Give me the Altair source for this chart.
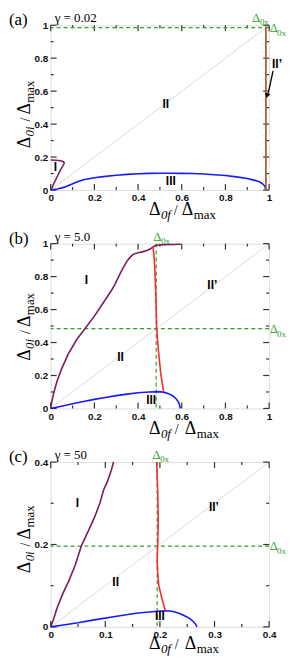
import altair as alt
import pandas as pd

# ---------------- data ----------------
# panel (a)  gamma = 0.02
a_I_x = [0.0, 0.005, 0.015, 0.03, 0.045, 0.055, 0.06, 0.062, 0.058, 0.045, 0.025, 0.0]
a_I_y = [0.0, 0.012, 0.042, 0.082, 0.122, 0.145, 0.158, 0.165, 0.172, 0.178, 0.181, 0.182]
a_III_x = [0.0, 0.03, 0.06, 0.09, 0.12, 0.15, 0.2, 0.25, 0.3, 0.35, 0.4, 0.45, 0.5, 0.55,
           0.6, 0.65, 0.7, 0.75, 0.8, 0.85, 0.9, 0.93, 0.955, 0.97, 0.98, 0.985]
a_III_y = [0.0, 0.006, 0.016, 0.032, 0.048, 0.062, 0.074, 0.083, 0.09, 0.095, 0.099, 0.101, 0.102, 0.102,
           0.101, 0.1, 0.097, 0.093, 0.088, 0.08, 0.07, 0.06, 0.05, 0.038, 0.024, 0.0]
a_red_x = [0.985, 0.985]
a_red_y = [0.0, 0.985]
a_d0x = 0.985
a_lab_t = ["I", "II", "III", "II\u2019"]
a_lab_x = [0.022, 0.527, 0.55, 1.036]
a_lab_y = [0.14, 0.52, 0.054, 0.765]
a_arrow = [1.018, 0.723, 0.995, 0.584]   # x, y, x2, y2
a_head = [0.991, 0.572]

# panel (b)  gamma = 5.0
b_I_x = [0.0, 0.005, 0.015, 0.03, 0.05, 0.08, 0.12, 0.16, 0.2, 0.23, 0.257, 0.28, 0.294, 0.315,
         0.332, 0.35, 0.362, 0.377, 0.4, 0.42, 0.44, 0.455, 0.468, 0.483, 0.52, 0.56, 0.596]
b_I_y = [0.0, 0.04, 0.1, 0.17, 0.24, 0.33, 0.42, 0.49, 0.56, 0.62, 0.673, 0.72, 0.753, 0.81,
         0.855, 0.895, 0.915, 0.935, 0.945, 0.95, 0.958, 0.967, 0.98, 0.99, 0.994, 0.995, 0.996]
b_red_x = [0.468, 0.472, 0.475, 0.478, 0.481, 0.483, 0.485, 0.49, 0.497, 0.505, 0.517]
b_red_y = [0.985, 0.94, 0.895, 0.8, 0.7, 0.6, 0.5, 0.4, 0.3, 0.2, 0.1]
b_III_x = [0.0, 0.05, 0.1, 0.15, 0.2, 0.25, 0.3, 0.35, 0.4, 0.45, 0.49, 0.517, 0.54, 0.558,
           0.572, 0.582, 0.589, 0.592, 0.593]
b_III_y = [0.0, 0.014, 0.028, 0.042, 0.055, 0.067, 0.078, 0.087, 0.095, 0.1, 0.102, 0.099, 0.09, 0.077,
           0.062, 0.045, 0.025, 0.008, 0.0]
b_d0x = 0.484
b_lab_t = ["I", "II", "II\u2019", "III"]
b_lab_x = [0.163, 0.32, 0.74, 0.46]
b_lab_y = [0.78, 0.31, 0.75, 0.05]

# panel (c)  gamma = 50
c_I_x = [0.0, 0.005, 0.012, 0.022, 0.033, 0.045, 0.056, 0.07, 0.08, 0.09, 0.097, 0.104, 0.109, 0.112, 0.115]
c_I_y = [0.0, 0.018, 0.047, 0.08, 0.111, 0.15, 0.196, 0.236, 0.265, 0.3, 0.333, 0.353, 0.372, 0.385, 0.4]
c_red_x = [0.194, 0.196, 0.197, 0.196, 0.195, 0.196, 0.198, 0.204, 0.21]
c_red_y = [0.4, 0.33, 0.26, 0.2, 0.164, 0.13, 0.1, 0.067, 0.039]
c_III_x = [0.0, 0.02, 0.05, 0.08, 0.121, 0.156, 0.195, 0.21, 0.222, 0.235, 0.245, 0.255, 0.262, 0.266, 0.268]
c_III_y = [0.0, 0.004, 0.01, 0.017, 0.026, 0.033, 0.038, 0.039, 0.038, 0.033, 0.027, 0.02, 0.012, 0.005, 0.0]
c_d0x = 0.196
c_lab_t = ["I", "II", "II\u2019", "III"]
c_lab_x = [0.049, 0.119, 0.299, 0.2]
c_lab_y = [0.30, 0.11, 0.29, 0.027]

# axis ticks
ab_major = [0, 0.2, 0.4, 0.6, 0.8, 1]
ab_minor = [0.1, 0.3, 0.5, 0.7, 0.9]
c_x_major = [0, 0.1, 0.2, 0.3, 0.4]
c_x_minor = [0.05, 0.15, 0.25, 0.35]
c_y_major = [0, 0.2, 0.4]
c_y_minor = [0.1, 0.3]

# ---------------- styling ----------------
FRAME = "#333333"
PURPLE = "#7a1e5a"
RED = "#ff2a2a"
BLUE = "#1a1aff"
GREEN = "#2fa02f"
DIAG = "#cfcfcf"
SERIF = "Liberation Serif"
SANS = "Liberation Sans"
LBL = "datum.value == 0 ? '0' : (datum.value == 1 ? '1' : format(datum.value, '.1f'))"


def txt(text, x, y, size, color="#000000", style="normal", angle=0, font=SERIF, weight="normal"):
    kw = dict(font=font, fontSize=size, fontStyle=style, fontWeight=weight, color=color,
              align="left", baseline="alphabetic")
    if angle:
        kw["angle"] = angle
    return alt.Chart(pd.DataFrame({"t": [text]})).mark_text(**kw).encode(
        text="t:N", x=alt.value(x), y=alt.value(y))


def panel(W, H, dmax, xmaj, xmin, ymaj, ymin, curves, d0x, d0x_top, vfront, labs, letter, gamma,
          ytitle_y, xtitle_dy, spaced, top_dx, extra=None):
    xsc = alt.Scale(domain=[0, dmax], nice=False, zero=False)
    ysc = alt.Scale(domain=[0, dmax], nice=False, zero=False)
    common = dict(labelExpr=LBL, ticks=False, domain=False, grid=False, title=None,
                  labelFont=SANS, labelFontWeight="bold", labelFontSize=10, labelColor="#111111",
                  labelPadding=3, labelFlush=False, labelOverlap=False, labelBound=False)
    xax = alt.Axis(values=xmaj, **common)
    yax = alt.Axis(values=ymaj, **common)

    def X(f="x"):
        return alt.X(f"{f}:Q", scale=xsc, axis=xax)

    def Y(f="y"):
        return alt.Y(f"{f}:Q", scale=ysc, axis=yax)

    layers = []
    # diagonal
    layers.append(alt.Chart(pd.DataFrame({"x": [0, dmax], "y": [0, dmax]})).mark_line(
        color=DIAG, strokeWidth=0.8).encode(x=X(), y=Y()))
    # inward ticks on all four sides
    for vals, L in [(xmaj, 6), (xmin, 3)]:
        df = pd.DataFrame({"x": vals})
        layers.append(alt.Chart(df).mark_rule(color=FRAME, strokeWidth=1.2).encode(
            x=X(), y=alt.value(H), y2=alt.value(H - L)))
        layers.append(alt.Chart(df).mark_rule(color=FRAME, strokeWidth=1.2).encode(
            x=X(), y=alt.value(0), y2=alt.value(L)))
    for vals, L in [(ymaj, 6), (ymin, 3)]:
        df = pd.DataFrame({"y": vals})
        layers.append(alt.Chart(df).mark_rule(color=FRAME, strokeWidth=1.2).encode(
            y=Y(), x=alt.value(0), x2=alt.value(L)))
        layers.append(alt.Chart(df).mark_rule(color=FRAME, strokeWidth=1.2).encode(
            y=Y(), x=alt.value(W), x2=alt.value(W - L)))
    # horizontal green dashed
    dd = pd.DataFrame({"v": [d0x]})
    layers.append(alt.Chart(dd).mark_rule(color=GREEN, strokeWidth=1.2, strokeDash=[4, 3]).encode(
        y=alt.Y("v:Q", scale=ysc, axis=yax)))
    vert = alt.Chart(pd.DataFrame({"v": [d0x_top]})).mark_rule(
        color=GREEN, strokeWidth=1.2, strokeDash=[4, 3]).encode(x=alt.X("v:Q", scale=xsc, axis=xax))
    if not vfront:
        layers.append(vert)
    for xs, ys, col in curves:
        df = pd.DataFrame({"x": xs, "y": ys, "i": list(range(len(xs)))})
        layers.append(alt.Chart(df).mark_line(color=col, strokeWidth=1.6).encode(
            x=X(), y=Y(), order="i:Q"))
    if vfront:
        layers.append(vert)
    if extra is not None:
        layers.extend(extra(X, Y))
    # region labels
    lt, lx, ly = labs
    layers.append(alt.Chart(pd.DataFrame({"t": lt, "x": lx, "y": ly})).mark_text(
        font=SANS, fontWeight="bold", fontSize=12, color="#000000", align="center",
        baseline="middle").encode(x=X(), y=Y(), text="t:N"))
    # Delta_0x labels (top and right)
    tv = pd.DataFrame({"v": [d0x_top]})
    layers.append(alt.Chart(tv).mark_text(
        text="\u0394", font=SERIF, fontSize=13, color=GREEN, align="left", baseline="alphabetic",
        dx=top_dx).encode(x=alt.X("v:Q", scale=xsc, axis=xax), y=alt.value(-3)))
    layers.append(alt.Chart(tv).mark_text(
        text="0x", font=SERIF, fontSize=9, color=GREEN, align="left", baseline="alphabetic",
        dx=top_dx + 8).encode(x=alt.X("v:Q", scale=xsc, axis=xax), y=alt.value(0)))
    layers.append(alt.Chart(dd).mark_text(
        text="\u0394", font=SERIF, fontSize=12, color=GREEN, align="left", baseline="alphabetic",
        dy=4).encode(y=alt.Y("v:Q", scale=ysc, axis=yax), x=alt.value(W + 1)))
    layers.append(alt.Chart(dd).mark_text(
        text="0x", font=SERIF, fontSize=9, color=GREEN, align="left", baseline="alphabetic",
        dy=8).encode(y=alt.Y("v:Q", scale=ysc, axis=yax), x=alt.value(W + 8)))
    # panel letter and gamma
    layers.append(txt(letter, -42, 0, 17))
    layers.append(txt(gamma, 4, -3, 13))
    # x title
    by = H + xtitle_dy
    if spaced:
        xs_ = [99, 111, 125, 135, 147]
    else:
        xs_ = [99, 111, 124, 132, 144]
    layers.append(txt("\u0394", xs_[0], by, 18))
    layers.append(txt("0f", xs_[1], by + 4, 13, style="italic"))
    layers.append(txt("/", xs_[2], by, 14))
    layers.append(txt("\u0394", xs_[3], by, 18))
    layers.append(txt("max", xs_[4], by + 4, 13))
    # y title (rotated)
    s = ytitle_y
    layers.append(txt("\u0394", -21, s, 18, angle=270))
    layers.append(txt("0i", -17, s - 12, 13, style="italic", angle=270))
    layers.append(txt("/", -21, s - 27, 14, angle=270))
    layers.append(txt("\u0394", -21, s - 34, 18, angle=270))
    layers.append(txt("max", -17, s - 46, 13, angle=270))
    return alt.layer(*layers).properties(width=W, height=H)


def arrow_layers(X, Y):
    ar = pd.DataFrame({"x": [a_arrow[0]], "y": [a_arrow[1]], "x2": [a_arrow[2]], "y2": [a_arrow[3]]})
    hd = pd.DataFrame({"x": [a_head[0]], "y": [a_head[1]]})
    return [
        alt.Chart(ar).mark_rule(color="#000000", strokeWidth=1.3).encode(
            x=X(), y=Y(), x2="x2:Q", y2="y2:Q"),
        alt.Chart(hd).mark_point(shape="triangle-down", filled=True, color="#000000", size=30,
                                 opacity=1, angle=13).encode(x=X(), y=Y()),
    ]


pa = panel(220, 166, 1, ab_major, ab_minor, ab_major, ab_minor,
           [(a_I_x, a_I_y, PURPLE), (a_III_x, a_III_y, BLUE), (a_red_x, a_red_y, RED)],
           a_d0x, a_d0x, True, (a_lab_t, a_lab_x, a_lab_y), "(a)", "\u03b3 = 0.02",
           124, 25, False, -14, extra=arrow_layers)
pb = panel(220, 166, 1, ab_major, ab_minor, ab_major, ab_minor,
           [(b_I_x, b_I_y, PURPLE), (b_III_x, b_III_y, BLUE), (b_red_x, b_red_y, RED)],
           b_d0x, 0.483, False, (b_lab_t, b_lab_x, b_lab_y), "(b)", "\u03b3 = 5.0",
           118, 26, True, -3)
pc = panel(220, 166, 0.4, c_x_major, c_x_minor, c_y_major, c_y_minor,
           [(c_I_x, c_I_y, PURPLE), (c_III_x, c_III_y, BLUE), (c_red_x, c_red_y, RED)],
           c_d0x, 0.195, False, (c_lab_t, c_lab_x, c_lab_y), "(c)", "\u03b3 = 50",
           112, 22, True, -5)

chart = alt.vconcat(pa, pb, pc, spacing=54, bounds="flush", padding=0).configure_view(
    stroke=FRAME, strokeWidth=2).configure(background="white")

chart.save("out.html", embed_options={"renderer": "svg", "actions": False})
